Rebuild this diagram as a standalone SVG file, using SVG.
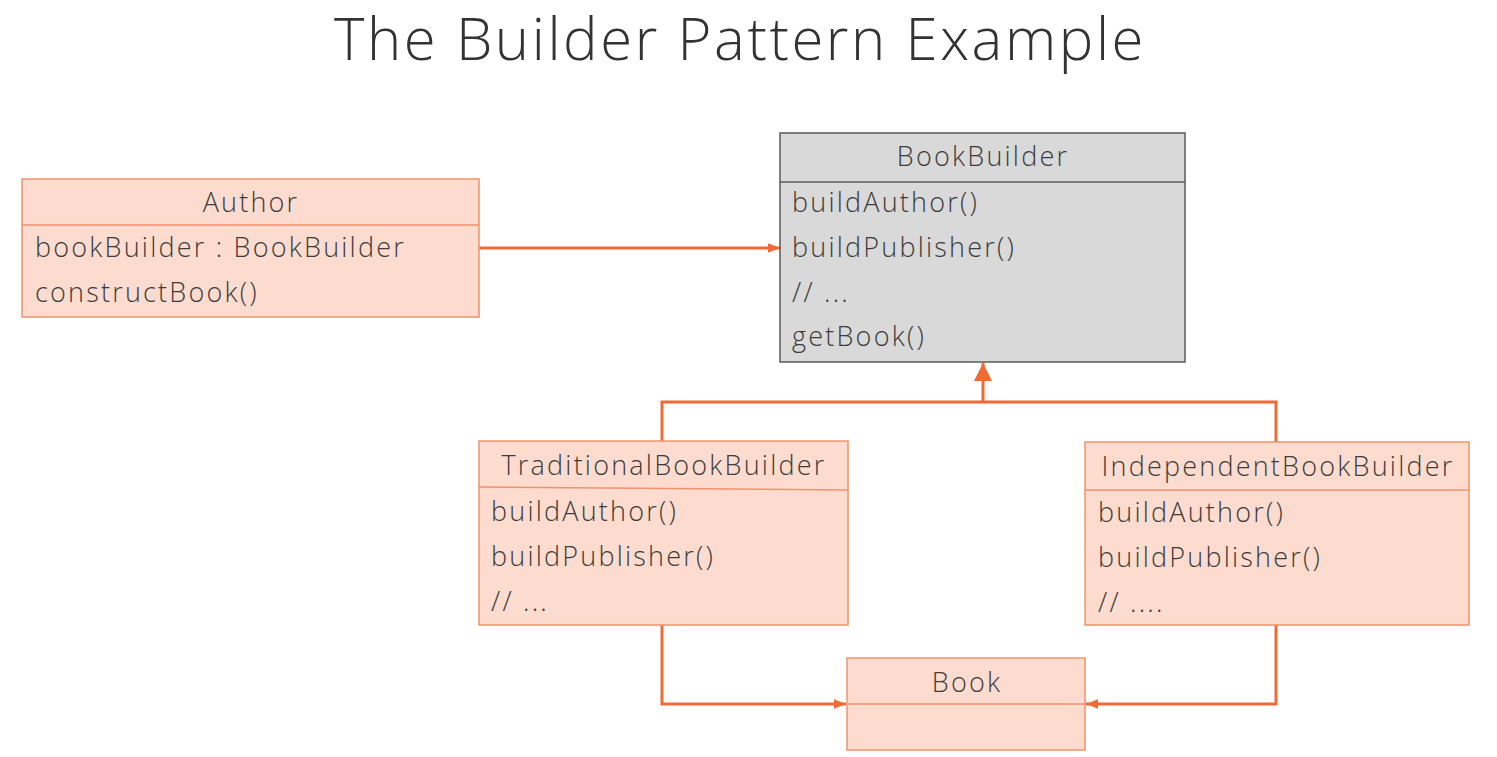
<svg xmlns="http://www.w3.org/2000/svg" width="1497" height="757" viewBox="0 0 1497 757">
<style>
.box{fill:#fddccf;stroke:#f0926e;stroke-width:1.5}
.gray{fill:#d9d9da;stroke:#5a5a5a;stroke-width:1.5}
.sep{stroke:#f0926e;stroke-width:1.5}
.gsep{stroke:#5a5a5a;stroke-width:1.5}
text{font-family:"Open Sans","Liberation Sans",sans-serif;font-weight:300;fill:#3c3c3c;font-size:27px;letter-spacing:2.2px}
.t{text-anchor:middle}
.title{font-size:58px;fill:#333;letter-spacing:2.6px}
.con{fill:none;stroke:#f06a36;stroke-width:3}
</style>
<defs>
<marker id="ah" viewBox="0 0 10 10" refX="10" refY="5" markerWidth="4" markerHeight="4" orient="auto" markerUnits="strokeWidth"><path d="M0,1 L10,5 L0,9 z" fill="#f06a36"/></marker>
<marker id="tri" viewBox="0 0 10 10" refX="10" refY="5" markerWidth="6" markerHeight="6" orient="auto" markerUnits="strokeWidth"><path d="M0,0 L10,5 L0,10 z" fill="#f06a36"/></marker>
</defs>
<text class="title t" x="740" y="60">The Builder Pattern Example</text>
<g id="connectors">
<path class="con" d="M479,248 L780,248" marker-end="url(#ah)"/>
<path class="con" d="M662,441 L662,402 L1276,402 L1276,442"/>
<path class="con" d="M983,402 L983,363" marker-end="url(#tri)"/>
<path class="con" d="M662,625 L662,704 L846,704" marker-end="url(#ah)"/>
<path class="con" d="M1276,625 L1276,704 L1086,704" marker-end="url(#ah)"/>
</g>
<g id="author">
<rect class="box" x="22" y="179" width="457" height="138"/>
<line class="sep" x1="22" y1="225" x2="479" y2="225"/>
<text class="t" x="251" y="212">Author</text>
<text x="35" y="257">bookBuilder : BookBuilder</text>
<text x="35" y="302">constructBook()</text>
</g>
<g id="bookbuilder">
<rect class="gray" x="780" y="133" width="405" height="229"/>
<line class="gsep" x1="780" y1="182" x2="1185" y2="182"/>
<text class="t" x="983" y="166">BookBuilder</text>
<text x="792" y="212">buildAuthor()</text>
<text x="792" y="257">buildPublisher()</text>
<text x="792" y="302">// ...</text>
<text x="792" y="346">getBook()</text>
</g>
<g id="traditional">
<rect class="box" x="479" y="441" width="369" height="184"/>
<line class="sep" x1="479" y1="487" x2="848" y2="490"/>
<text class="t" x="664" y="475">TraditionalBookBuilder</text>
<text x="491" y="521">buildAuthor()</text>
<text x="491" y="566">buildPublisher()</text>
<text x="491" y="611">// ...</text>
</g>
<g id="independent">
<rect class="box" x="1085" y="442" width="384" height="183"/>
<line class="sep" x1="1085" y1="490" x2="1469" y2="490"/>
<text class="t" x="1278" y="476">IndependentBookBuilder</text>
<text x="1098" y="522">buildAuthor()</text>
<text x="1098" y="567">buildPublisher()</text>
<text x="1098" y="612">// ....</text>
</g>
<g id="book">
<rect class="box" x="847" y="658" width="238" height="92"/>
<line class="sep" x1="847" y1="704" x2="1085" y2="704"/>
<text class="t" x="967" y="692">Book</text>
</g>
</svg>
